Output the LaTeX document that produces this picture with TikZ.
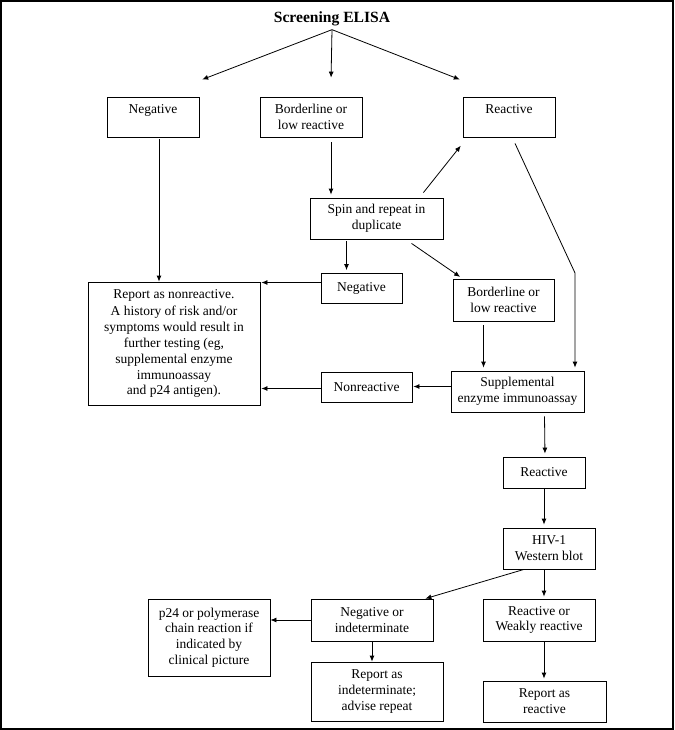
\documentclass[tikz,border=0pt]{standalone}
\usepackage{fontspec}
\setmainfont{Liberation Serif}
\usetikzlibrary{arrows.meta, positioning}

\tikzset{
  box/.style={draw, thick, rectangle, align=center, inner sep=2pt,
    font=\fontsize{13.5}{15.8}\selectfont},
  hightext/.style={text depth=15pt}
}

\begin{document}
\begin{tikzpicture}[x=1pt,y=-1pt,>={Latex[length=6pt,width=5pt]},shorten >=3pt]

      \useasboundingbox (0,0) rectangle (674,730);
      \draw[line width=2pt] (1,1) rectangle (672.5,729);

      \node[font=\bfseries\fontsize{15.6}{18}\selectfont] (elisa) at (332,19) {Screening ELISA};

      \node[box, hightext, minimum width=92, minimum height=40] (neg) at (153,117) {Negative};
      \node[box, minimum width=102, minimum height=40] (bord) at (311,117) {Borderline or\\low reactive};
      \node[box, hightext, minimum width=92, minimum height=40] (react) at (509,117) {Reactive};
      \node[box, minimum width=133, minimum height=41] (spin) at (376.5,218.5) {Spin and repeat in\\duplicate};

      \node[box, minimum width=172, minimum height=123] (report) at (174,343.5)
        {Report as nonreactive.\\[2pt]A history of risk and/or\\symptoms would result in\\further testing (eg,\\supplemental enzyme\\immunoassay\\and p24 antigen).};
      \node[box, minimum width=81, minimum height=30] (neg2) at (361.5,288.5) {Negative};
      \node[box, minimum width=101, minimum height=42] (bord2) at (503.5,300) {Borderline or\\low reactive};
      \node[box, minimum width=133, minimum height=41] (supp) at (517.5,391.5) {Supplemental\\enzyme immunoassay};
      \node[box, minimum width=91, minimum height=30] (nonreact) at (366.5,387.5) {Nonreactive};

      \node[box, minimum width=82, minimum height=31] (react2) at (544,472.5) {Reactive};
      \node[box, minimum width=92, minimum height=41] (wblot) at (549,548.5) {HIV-1\\Western blot};

      \node[box, minimum width=122, minimum height=42] (negind) at (372,620) {Negative or\\indeterminate};
      \node[box, minimum width=112, minimum height=42] (weak) at (539,620) {Reactive or\\Weakly reactive};
      \node[box, minimum width=122, minimum height=77] (pcr) at (209,637.5) {p24 or polymerase\\chain reaction if\\indicated by\\clinical picture};
      \node[box, minimum width=132, minimum height=59] (repind) at (377,691.5) {Report as\\indeterminate;\\advise repeat};
      \node[box, minimum width=123, minimum height=41] (represult) at (544.5,701.5) {Report as\\reactive};

      \coordinate (bend) at (575,273);

      \path[->, line width=0.8pt]

      (elisa.south) edge ([yshift=16pt]neg.north east)
      (elisa.south) edge ([xshift=20pt,yshift=16pt]bord.north)
      (elisa.south) edge ([yshift=16pt]react.north west)

      ([xshift=6pt,yshift=-2pt]neg.south) edge[shorten >=0pt] ([xshift=6pt]neg.south |- report.north)
      ([xshift=20pt,yshift=-5pt]bord.south) edge ([xshift=20pt]bord.south |- spin.north)
      ([xshift=-20pt,yshift=5pt]spin.north east) edge ([yshift=-6pt]react.south west)

      ([xshift=-30pt,yshift=-2pt]spin.south) edge ([xshift=-30pt]spin.south |- neg2.north)
      ([xshift=35pt,yshift=-4pt]spin.south) edge ([xshift=10pt]bord2.north west)
      ([yshift=6pt]neg2.west) edge[shorten >=1pt] ([yshift=6pt]neg2.west -| report.east)
      ([xshift=-20pt,yshift=-4pt]bord2.south) edge ([xshift=-20pt]bord2.south |- supp.north)

      ([yshift=5pt]supp.west) edge[shorten >=1pt] ([yshift=5pt]supp.west -| nonreact.east)
      ([yshift=-1pt]nonreact.west) edge[shorten >=1pt] ([yshift=-1pt]nonreact.west -| report.east)
      ([xshift=27pt,yshift=-4pt]supp.south) edge ([xshift=1pt]react2.north)
      (react2.south) edge ([xshift=-5pt]wblot.north)

      ([xshift=-5pt]wblot.south) edge[shorten >=2pt] ([xshift=5pt]weak.north)
      ([xshift=-25pt]wblot.south) edge[shorten >=0pt] ([xshift=-8pt]negind.north east)
      (negind.west) edge[shorten >=0pt] (negind.west -| pcr.east)
      (negind.south) edge[shorten >=0pt] (negind.south |- repind.north)
      ([xshift=5pt]weak.south) edge[shorten >=2pt] ([xshift=5pt]weak.south |- represult.north)
      ;

      \draw[->, line width=0.8pt] ([xshift=6pt,yshift=-6pt]react.south) -- (bend) -- (bend |- supp.north);

\end{tikzpicture}
\end{document}
